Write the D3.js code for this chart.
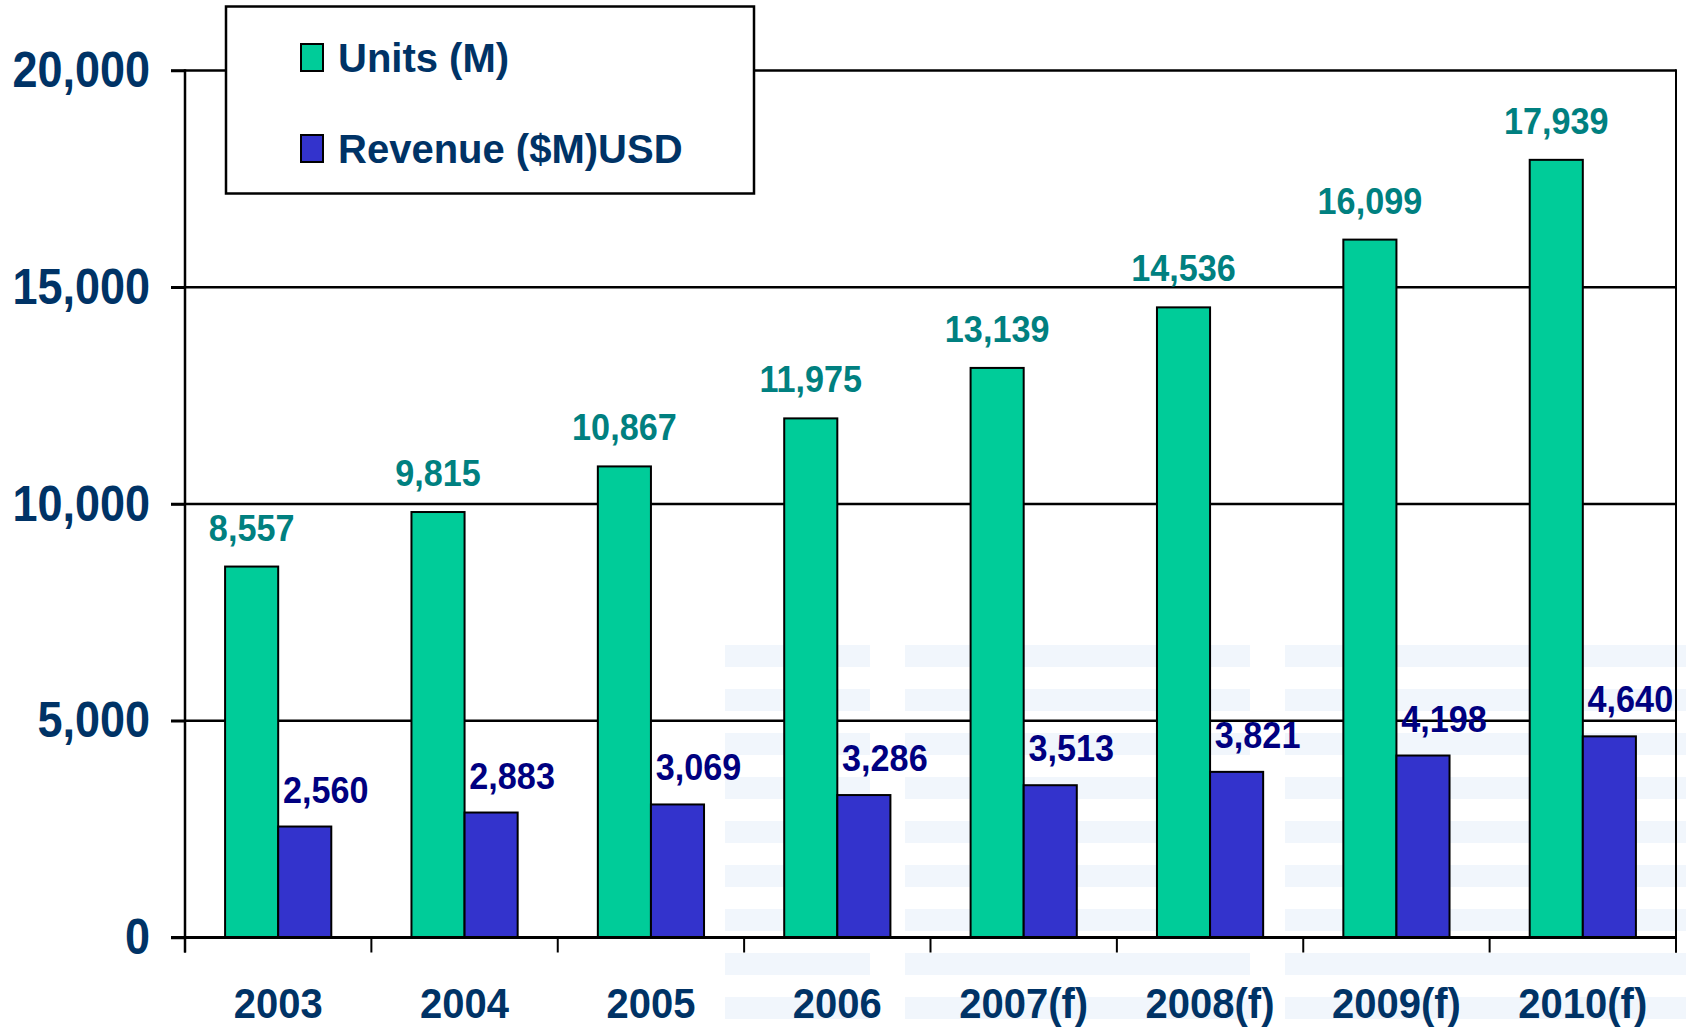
<!DOCTYPE html>
<html>
<head>
<meta charset="utf-8">
<script src="https://cdn.jsdelivr.net/npm/d3@7"></script>
<style>
  html, body { margin: 0; padding: 0; background: #ffffff; }
  svg { display: block; }
  text { font-family: "Liberation Sans", Arial, sans-serif; font-weight: bold; }
</style>
</head>
<body>
<svg id="chart" width="1686" height="1028"></svg>
<script>
// ---- data ----
const categories = ["2003", "2004", "2005", "2006", "2007(f)", "2008(f)", "2009(f)", "2010(f)"];
const units = [8557, 9815, 10867, 11975, 13139, 14536, 16099, 17939];
const revenue = [2560, 2883, 3069, 3286, 3513, 3821, 4198, 4640];
const yTicks = [0, 5000, 10000, 15000, 20000];
const seriesNames = ["Units (M)", "Revenue ($M)USD"];
const seriesKeys = ["units", "revenue"];

(function () {
// ---- styles ----
const barColors = { units: "#00CC99", revenue: "#3333CC" };
const labelColors = { units: "#008080", revenue: "#000080" };
const axisText = "#003366";

const svg = d3.select("#chart");
const plotLeft = 185, plotRight = 1676, plotTop = 70.5, plotBottom = 937.5;

// very faint watermark stripes (background decoration)
const wm = svg.append("g").attr("fill", "#f1f6fc");
const stripeRows = d3.range(0, 9);
const letterBlocks = [[725, 870], [905, 1250], [1285, 1686]];
stripeRows.forEach(r => {
  letterBlocks.forEach(b => {
    wm.append("rect").attr("x", b[0]).attr("y", 645 + r * 44).attr("width", b[1] - b[0]).attr("height", 22);
  });
});

const x = d3.scaleBand().domain(categories).range([plotLeft, plotRight]).paddingInner(0).paddingOuter(0);
const xs = d3.scaleBand().domain(seriesKeys).range([0, x.bandwidth()]).paddingInner(0).paddingOuter(0.755);
const y = d3.scaleLinear().domain([0, 20000]).range([plotBottom, plotTop]);

// gridlines
svg.append("g").selectAll("line").data(yTicks.filter(v => v > 0)).join("line")
  .attr("x1", plotLeft - 14).attr("x2", plotRight)
  .attr("y1", d => y(d)).attr("y2", d => y(d))
  .attr("stroke", "#000").attr("stroke-width", 2.5);

// right border
svg.append("line").attr("x1", plotRight).attr("x2", plotRight).attr("y1", y(20000) - 1.25).attr("y2", plotBottom + 15)
  .attr("stroke", "#000").attr("stroke-width", 2);

// bars
const data = categories.map((c, i) => ({ cat: c, units: units[i], revenue: revenue[i] }));
const groups = svg.append("g").selectAll("g").data(data).join("g")
  .attr("transform", d => `translate(${x(d.cat)},0)`);
groups.selectAll("rect").data(d => seriesKeys.map(k => ({ key: k, value: d[k] }))).join("rect")
  .attr("x", d => xs(d.key))
  .attr("width", xs.bandwidth())
  .attr("y", d => y(d.value))
  .attr("height", d => y(0) - y(d.value))
  .attr("fill", d => barColors[d.key])
  .attr("stroke", "#000").attr("stroke-width", 2);

// value labels
const fmt = d3.format(",");
groups.selectAll("text").data(d => seriesKeys.map(k => ({ key: k, value: d[k] }))).join("text")
  .attr("transform", d => {
    const cx = xs(d.key) + xs.bandwidth() / 2 + (d.key === "revenue" ? 21 : 0);
    const by = y(d.value) - (d.key === "revenue" ? 24 : 26);
    return `translate(${cx},${by}) scale(0.95,1)`;
  })
  .attr("text-anchor", "middle")
  .attr("font-size", 36)
  .attr("fill", d => labelColors[d.key])
  .text(d => fmt(d.value));

// x axis line
svg.append("line").attr("x1", plotLeft - 14).attr("x2", plotRight).attr("y1", plotBottom).attr("y2", plotBottom)
  .attr("stroke", "#000").attr("stroke-width", 3);

// x axis ticks at band boundaries
const bounds = categories.map(c => x(c)).concat([plotRight]);
svg.append("g").selectAll("line").data(bounds).join("line")
  .attr("x1", d => d).attr("x2", d => d).attr("y1", plotBottom).attr("y2", plotBottom + 15)
  .attr("stroke", "#000").attr("stroke-width", 2);

// x axis labels
const xAxis = svg.append("g").attr("transform", `translate(0,${plotBottom})`)
  .call(d3.axisBottom(x).tickSize(0).tickPadding(50));
xAxis.select(".domain").remove();
xAxis.selectAll("text")
  .attr("font-size", 43).attr("font-family", "'Liberation Sans', Arial, sans-serif")
  .attr("font-weight", "bold").attr("fill", axisText)
  .each(function() {
    const t = d3.select(this);
    const yy = +t.attr("y");
    t.attr("y", null).attr("transform", `translate(0,${yy}) scale(0.93,1)`);
  });

// y axis
const yAxis = svg.append("g").attr("transform", `translate(${plotLeft},0)`)
  .call(d3.axisLeft(y).tickValues(yTicks).tickFormat(fmt).tickSize(14).tickPadding(21));
yAxis.select(".domain").attr("stroke", "#000").attr("stroke-width", 2.5)
  .attr("d", `M0,${y(20000) - 1.25}V${plotBottom + 15}`);
yAxis.selectAll(".tick line").attr("stroke", "#000").attr("stroke-width", 2.5);
yAxis.selectAll(".tick text")
  .attr("font-size", 50).attr("font-family", "'Liberation Sans', Arial, sans-serif")
  .attr("font-weight", "bold").attr("fill", axisText)
  .each(function() {
    const t = d3.select(this);
    const xx = +t.attr("x");
    t.attr("x", null).attr("transform", `translate(${xx},0) scale(0.9,1)`);
  });

// legend
const lg = svg.append("g");
lg.append("rect").attr("x", 226).attr("y", 6.5).attr("width", 528).attr("height", 187)
  .attr("fill", "#fff").attr("stroke", "#000").attr("stroke-width", 2.5);
const legendRows = [{ key: "units", y: 72 }, { key: "revenue", y: 163 }];
legendRows.forEach((r, i) => {
  lg.append("rect").attr("x", 301).attr("y", r.y - 28).attr("width", 22).attr("height", 27)
    .attr("fill", barColors[r.key]).attr("stroke", "#000").attr("stroke-width", 2);
  lg.append("text").attr("x", 338).attr("y", r.y).attr("font-size", 40)
    .attr("fill", axisText).text(seriesNames[i]);
});
})();
</script>
</body>
</html>
